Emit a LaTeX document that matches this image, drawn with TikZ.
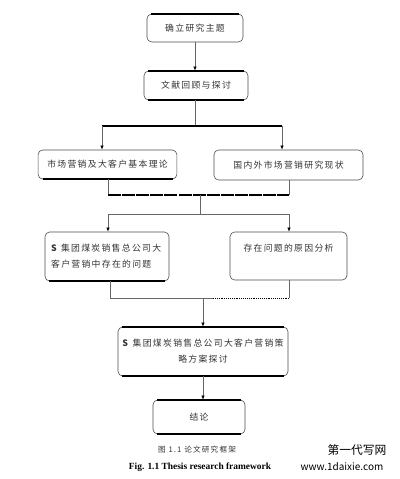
\documentclass[tikz,border=0pt]{standalone}
\usepackage{fontspec}
\setmainfont{Liberation Serif}
\newfontfamily\cjk[LetterSpace=15]{Noto Sans CJK SC}
\newfontfamily\cjkplain{Noto Sans CJK SC}
\usetikzlibrary{arrows.meta}

\begin{document}
\begin{tikzpicture}[x=0.85pt,y=-0.85pt,
    box/.style={draw=black!70,rounded corners=4pt,line width=0.5pt,align=center,inner sep=2pt,text=black!80,font=\cjk\fontsize{7.5}{13.5}\selectfont},
    edge/.style={line width=1.6pt,black},
    conn/.style={draw=black!60,line width=0.6pt},
    arr/.style={conn,-{Latex[length=3.5pt,width=3pt,color=black]}}]

    \useasboundingbox (0,0) rectangle (400,479);

    \node [box,minimum width=81.6pt,minimum height=23.8pt] (topic) at (195,28) {确立研究主题};
    \node [box,minimum width=88.4pt,minimum height=24.7pt] (review) at (196,85.5) {文献回顾与探讨};
    \node [box,minimum width=118pt,minimum height=24.7pt] (theory) at (107.5,164.5) {市场营销及大客户基本理论};
    \node [box,minimum width=126.7pt,minimum height=25.5pt] (status) at (288.5,165) {国内外市场营销研究现状};
    \node [box,minimum width=105.4pt,minimum height=41.7pt,align=left,text width=95pt] (problem) at (107,256.5)
        {\textbf{S} 集团煤炭销售总公司大\\客户营销中存在的问题};
    \node [box,minimum width=99.5pt,minimum height=40.8pt] (cause) at (288.5,256) {存在问题的原因分析\\~};
    \node [box,minimum width=144.5pt,minimum height=41.7pt] (strategy) at (203,351.5)
        {\textbf{S} 集团煤炭销售总公司大客户营销策\\略方案探讨};
    \node [box,minimum width=78.2pt,minimum height=28.9pt] (result) at (199,417) {结论};

    % heavy rules on the box edges
    \foreach \b in {topic,review,strategy,result}
        \draw [edge] ([xshift=4pt]\b.north west) -- ([xshift=-4pt]\b.north east);
    \foreach \b in {review,theory,problem,strategy,result}
        \draw [edge] ([xshift=4pt]\b.south west) -- ([xshift=-4pt]\b.south east);

    \draw [arr] (topic.south) -- (topic.south |- review.north);

    \coordinate (s1) at (195,126);
    \coordinate (s1l) at (102,126);
    \coordinate (s1r) at (282,126);
    \draw [conn] (review.south -| s1) -- (s1);
    \draw [edge] (s1l) -- (s1r);
    \draw [arr] (s1l) -- (s1l |- theory.north);
    \draw [arr] (s1r) -- (s1r |- status.north);

    \coordinate (j1l) at (108,195);
    \coordinate (j1r) at (289,195);
    \coordinate (j1) at (200,195);
    \coordinate (s2) at (200,214);
    \coordinate (s2l) at (108,214);
    \coordinate (s2r) at (289,214);
    \draw [conn] (theory.south -| j1l) -- (j1l);
    \draw [conn] (status.south -| j1r) -- (j1r);
    \draw [edge,dash pattern=on 11pt off 1pt] (j1l) -- (j1r);
    \draw [conn] (j1) -- (s2);
    \draw [conn] (s2l) -- (s2r);
    \draw [arr] (s2l) -- (s2l |- problem.north);
    \draw [arr] (s2r) -- (s2r |- cause.north);

    \coordinate (j2l) at (110,298);
    \coordinate (j2m) at (213,298);
    \coordinate (j2r) at (289,298);
    \coordinate (s3) at (203,298);
    \draw [conn] (problem.south -| j2l) -- (j2l) -- (j2m);
    \draw [conn] (cause.south -| j2r) -- (j2r);
    \draw [conn,densely dotted,draw=black] (j2m) -- (j2r);
    \draw [arr] (s3) -- (s3 |- strategy.north);
    \draw [arr] (strategy.south -| s3) -- (result.north -| s3);

    \node [font=\cjk\fontsize{6.5}{8}\selectfont,text=black!80] (capcn) at (197,450) {图 1.1 论文研究框架};
    \node [font=\bfseries\fontsize{8}{10}\selectfont] (capen) at (200,467) {Fig. 1.1 Thesis research framework};

    \node [font=\cjkplain\fontsize{10}{12}\selectfont] (mark) at (357,450) {第一代写网};
    \node [font=\cjkplain\fontsize{8.5}{10}\selectfont] (site) at (342,467) {www.1daixie.com};

\end{tikzpicture}
\end{document}
